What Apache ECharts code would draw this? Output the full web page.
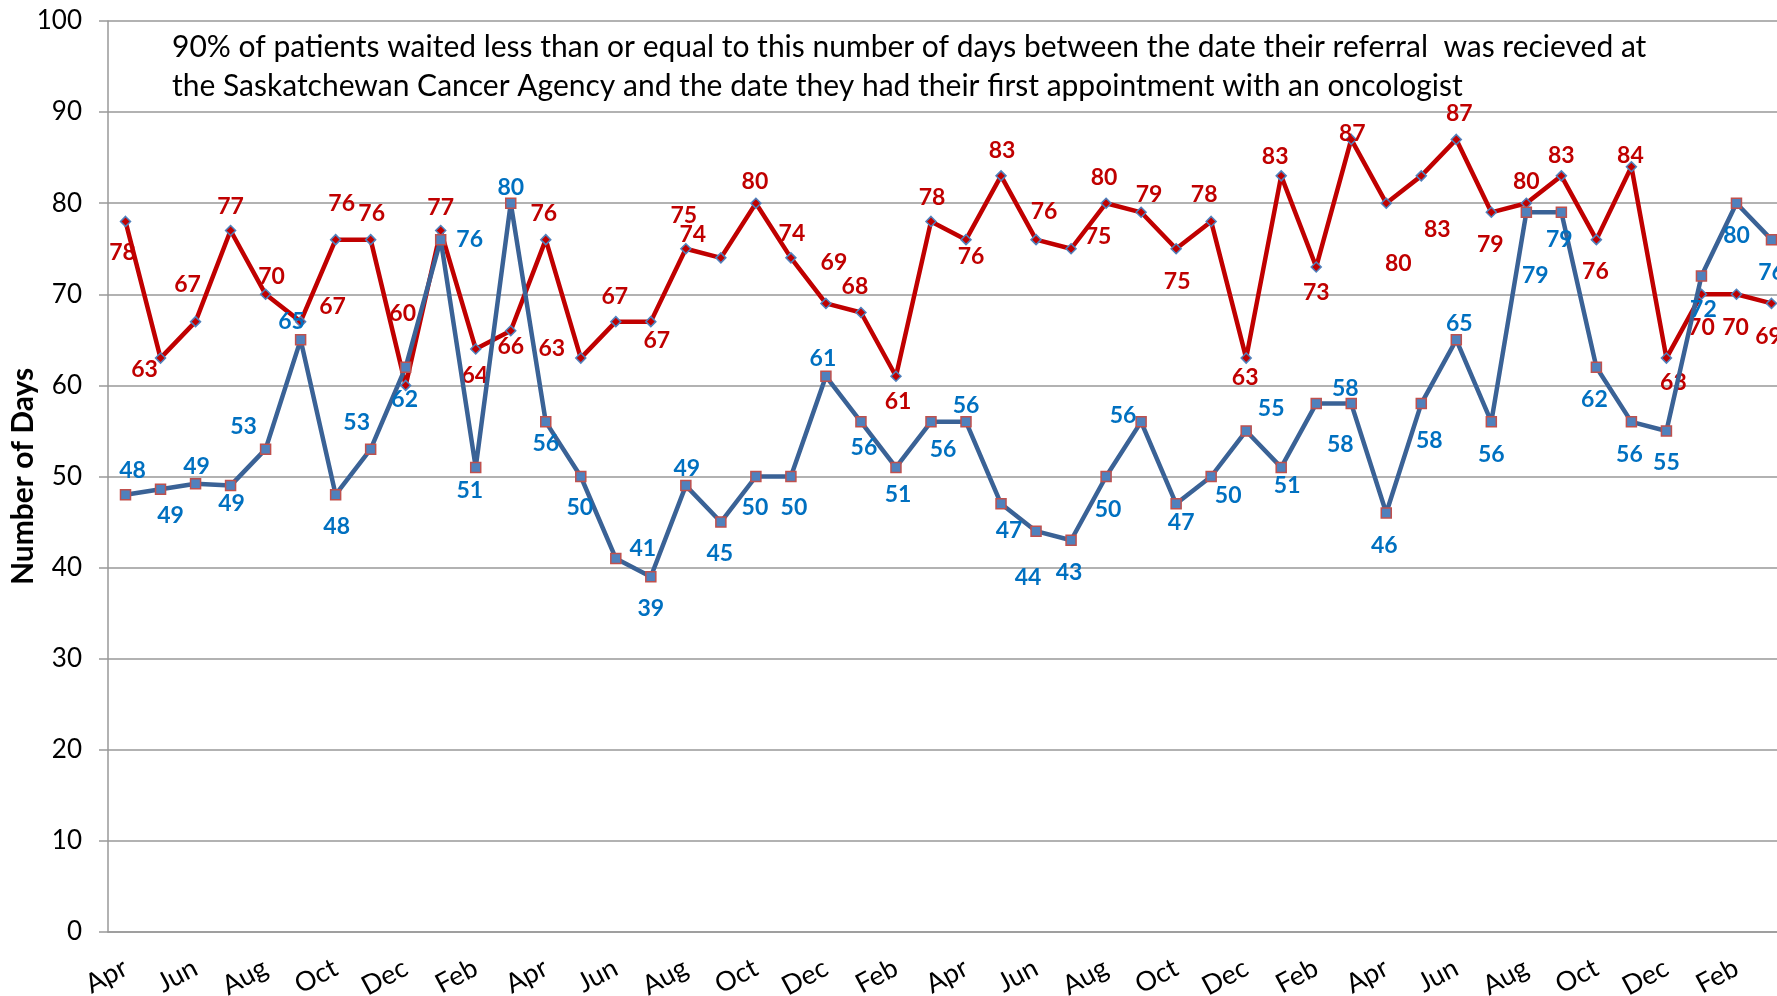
<!DOCTYPE html>
<html>
<head>
<meta charset="utf-8">
<title>Wait times</title>
<script src="https://cdn.jsdelivr.net/npm/echarts@6/dist/echarts.min.js"></script>
<style>
  html, body { margin: 0; padding: 0; background: #fff; }
  #chart { width: 1777px; height: 996px; }
</style>
</head>
<body>
<div id="chart"></div>
<script>
// months, 4 years starting April
const categories = [
  'Apr', 'May', 'Jun', 'Jul', 'Aug', 'Sep', 'Oct', 'Nov', 'Dec', 'Jan', 'Feb', 'Mar',
  'Apr', 'May', 'Jun', 'Jul', 'Aug', 'Sep', 'Oct', 'Nov', 'Dec', 'Jan', 'Feb', 'Mar',
  'Apr', 'May', 'Jun', 'Jul', 'Aug', 'Sep', 'Oct', 'Nov', 'Dec', 'Jan', 'Feb', 'Mar',
  'Apr', 'May', 'Jun', 'Jul', 'Aug', 'Sep', 'Oct', 'Nov', 'Dec', 'Jan', 'Feb', 'Mar',
]
const redValues = [
  78, 63, 67, 77, 70, 67, 76, 76, 60, 77, 64, 66,
  76, 63, 67, 67, 75, 74, 80, 74, 69, 68, 61, 78,
  76, 83, 76, 75, 80, 79, 75, 78, 63, 83, 73, 87,
  80, 83, 87, 79, 80, 83, 76, 84, 63, 70, 70, 69,
]
const blueValues = [
  48, 48.6, 49.2, 49, 53, 65, 48, 53, 62, 76, 51, 80,
  56, 50, 41, 39, 49, 45, 50, 50, 61, 56, 51, 56,
  56, 47, 44, 43, 50, 56, 47, 50, 55, 51, 58, 58,
  46, 58, 65, 56, 79, 79, 62, 56, 55, 72, 80, 76,
]
const yTicks = { min: 0, max: 100, interval: 10 }

// label shift from each point [dx, dy] in px (styling only)
const redLabelShift = [
  [-3, 31], [-16, 12], [-8, -37], [0, -24], [6, -18], [32, -15], [6, -36], [1, -26], [-3, -72], [0, -23], [-1, 27], [0, 16],
  [-2, -26], [-29, -9], [-1, -25], [6, 19], [-2, -33], [-28, -23], [-1, -22], [1, -24], [8, -41], [-6, -26], [2, 25], [1, -24],
  [5, 17], [1, -25], [8, -28], [27, -12], [-2, -26], [8, -18], [1, 33], [-7, -27], [-1, 20], [-6, -19], [0, 26], [1, -6],
  [12, 60], [16, 54], [3, -26], [-1, 32], [0, -22], [0, -20], [-1, 32], [-1, -11], [7, 25], [0, 33], [-1, 33], [-3, 33],
]
const blueLabelShift = [
  [7, -24], [10, 26], [1, -17], [1, 18], [-22, -23], [-9, -18], [1, 32], [-14, -27], [-1, 32], [29, 0], [-6, 23], [0, -16],
  [0, 22], [-1, 31], [27, -10], [0, 32], [1, -17], [-1, 32], [-1, 31], [3, 31], [-3, -18], [3, 26], [2, 27], [12, 28],
  [0, -16], [8, 27], [-8, 46], [-2, 32], [2, 33], [-18, -6], [5, 19], [17, 19], [25, -22], [6, 18], [24, 41], [-6, -15],
  [-2, 33], [8, 37], [3, -16], [0, 33], [9, 63], [-2, 27], [-2, 32], [-2, 33], [0, 32], [2, 33], [0, 32], [0, 33],
]

const fontFamily = 'Lato, "Open Sans", sans-serif'
const gridColor = '#999999'

function buildData(values, shifts, color) {
  return values.map((v, i) => ({
    value: v,
    label: {
      show: true,
      position: 'inside',
      offset: shifts[i],
      color: color,
      fontFamily: fontFamily,
      fontWeight: 'bold',
      fontSize: 23,
      formatter: p => Math.round(p.value),
    },
  }))
}

const option = {
  animation: false,
  title: {
    text: '90% of patients waited less than or equal to this number of days between the date their referral  was recieved at\nthe Saskatchewan Cancer Agency and the date they had their first appointment with an oncologist',
    left: 172,
    top: 28,
    padding: 0,
    textStyle: {
      fontFamily: fontFamily,
      fontSize: 30,
      fontWeight: 'normal',
      color: '#000',
      lineHeight: 39,
    },
  },
  grid: {
    left: 108,
    right: -12,
    top: 21,
    bottom: 64,
    containLabel: false,
    outerBoundsMode: 'none',
  },
  xAxis: {
    type: 'category',
    data: categories,
    boundaryGap: true,
    axisLine: { lineStyle: { color: gridColor, width: 1.5 } },
    axisTick: { interval: 0, length: 10, lineStyle: { color: gridColor, width: 1.5 } },
    axisLabel: {
      interval: 1,
      rotate: 28,
      margin: 34,
      fontFamily: fontFamily,
      fontSize: 27,
      color: '#000',
    },
  },
  yAxis: {
    type: 'value',
    min: yTicks.min,
    max: yTicks.max,
    interval: yTicks.interval,
    name: 'Number of Days',
    nameLocation: 'middle',
    nameGap: 70,
    nameMoveOverlap: false,
    nameTextStyle: {
      fontFamily: fontFamily,
      fontSize: 30,
      fontWeight: 'bold',
      color: '#000',
    },
    axisLine: { show: true, lineStyle: { color: gridColor, width: 1.5 } },
    axisTick: { show: true, length: 9, lineStyle: { color: gridColor, width: 1.5 } },
    axisLabel: {
      margin: 26,
      fontFamily: fontFamily,
      fontSize: 26,
      color: '#000',
    },
    splitLine: { lineStyle: { color: gridColor, width: 1.5 } },
  },
  series: [
    {
      name: 'red',
      type: 'line',
      data: buildData(redValues, redLabelShift, '#C00000'),
      symbol: 'diamond',
      symbolSize: 10,
      lineStyle: { color: '#C00000', width: 4.5 },
      itemStyle: { color: '#C00000', borderColor: '#4F81BD', borderWidth: 1.5 },
      z: 2,
    },
    {
      name: 'blue',
      type: 'line',
      data: buildData(blueValues, blueLabelShift, '#0070C0'),
      symbol: 'rect',
      symbolSize: 10,
      lineStyle: { color: '#3A6296', width: 4.5 },
      itemStyle: { color: '#4F81BD', borderColor: '#C0504D', borderWidth: 1.5 },
      z: 3,
    },
  ],
}

const chart = echarts.init(document.getElementById('chart'))
chart.setOption(option)
</script>
</body>
</html>
